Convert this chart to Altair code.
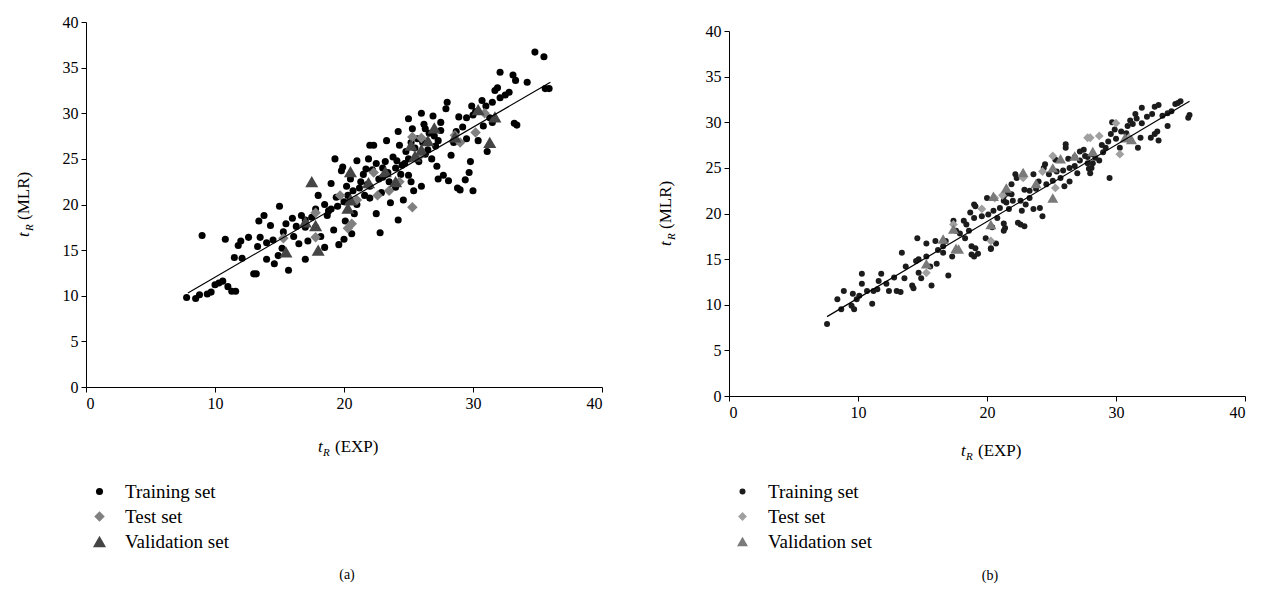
import altair as alt
import pandas as pd

SETS = ["Training set", "Test set", "Validation set"]

# ---------------- Panel (a) ----------------
a_train_x = [7.8, 8.5, 8.8, 9.0, 9.4, 9.7, 10.0, 10.3, 10.6, 10.8, 11.0, 11.3, 11.6, 11.5, 11.8, 12.0, 12.1, 12.6,
             13.0, 13.2, 13.4, 13.5, 13.3, 13.8, 14.0, 14.3, 14.5, 14.6, 14.9, 15.0, 15.3, 15.5, 15.7, 16.1, 16.3,
             16.5, 16.7, 17.0, 17.0, 17.2, 17.5, 17.8, 18.0, 18.2, 18.5, 18.7, 18.8, 19.0, 19.2, 19.3, 19.4, 19.6,
             19.8, 19.9, 20.0, 20.1, 20.3, 20.5, 20.5, 20.6, 20.8, 21.0, 21.0, 21.3, 21.5, 21.6, 21.8, 21.9, 22.0,
             22.2, 22.3, 22.5, 22.8, 22.5, 22.9, 23.0, 23.2, 23.3, 23.5, 23.6, 23.8, 24.0, 24.0, 24.2, 24.3, 24.5,
             24.6, 24.8, 25.0, 25.0, 25.2, 25.3, 25.4, 25.5, 25.8, 25.9, 26.0, 26.2, 26.3, 26.5, 26.8, 27.0, 27.2,
             27.3, 27.5, 27.7, 27.9, 28.0, 28.1, 28.3, 28.5, 28.8, 29.0, 29.2, 29.5, 29.7, 29.4, 29.8, 30.0, 30.0,
             30.2, 30.4, 30.7, 31.0, 31.1, 31.3, 31.5, 31.5, 31.7, 32.1, 32.5, 32.8, 31.9, 32.1, 33.1, 33.3, 34.2,
             33.4, 33.2, 34.8, 35.5, 35.6, 35.9,
             19.0, 19.5, 20.0, 20.7, 21.2, 22.0, 22.7, 23.4, 24.1, 24.7, 25.2, 25.7, 26.1, 26.6, 27.1, 23.0, 24.4,
             21.7, 20.2, 18.5, 17.8, 17.0, 16.0, 15.2, 14.0, 29.5, 30.8, 28.7, 27.5, 26.9, 26.0, 24.2, 25.0, 22.0,
             28.9, 29.9, 27.3, 26.3, 25.6]
a_train_y = [9.8, 9.7, 10.1, 16.6, 10.2, 10.4, 11.2, 11.4, 11.6, 16.2, 11.0, 10.5, 10.5, 14.2, 15.5, 16.0, 14.1, 16.4,
             12.4, 12.4, 18.2, 16.4, 15.4, 18.8, 15.8, 17.7, 16.1, 13.5, 14.4, 19.8, 17.0, 17.9, 12.8, 16.5, 17.6,
             15.7, 18.8, 14.0, 18.3, 16.0, 18.6, 17.5, 21.0, 16.5, 15.3, 18.8, 19.3, 22.3, 17.2, 25.0, 20.8, 15.6,
             23.7, 24.1, 16.2, 18.2, 21.0, 20.5, 22.8, 16.8, 19.0, 24.8, 20.0, 22.5, 23.3, 21.0, 22.2, 25.0, 20.7,
             23.8, 26.5, 24.5, 16.9, 19.0, 21.3, 23.0, 24.7, 27.0, 22.5, 20.2, 25.2, 24.0, 21.9, 18.3, 26.5, 24.3,
             20.5, 25.8, 23.2, 25.0, 22.5, 28.3, 21.5, 26.2, 24.7, 25.5, 22.0, 28.8, 25.5, 26.0, 25.0, 27.5, 24.2,
             22.8, 28.1, 23.2, 30.5, 31.2, 22.6, 25.4, 26.8, 21.8, 21.6, 28.5, 29.5, 23.5, 22.7, 24.7, 29.8, 21.5,
             30.2, 27.0, 31.4, 30.8, 25.8, 29.5, 29.0, 31.2, 32.5, 31.7, 32.0, 32.3, 32.8, 34.5, 34.2, 33.6, 33.4,
             28.7, 28.9, 36.7, 36.2, 32.7, 32.7,
             19.5, 19.8, 20.3, 21.5, 21.8, 22.0, 22.8, 23.5, 24.8, 24.5, 26.8, 27.2, 26.8, 27.8, 26.4, 24.0, 23.3,
             23.9, 22.0, 20.0, 19.5, 17.5, 18.5, 15.2, 14.0, 27.2, 28.6, 28.0, 29.0, 29.7, 30.0, 28.0, 29.4, 26.5,
             29.6, 30.8, 27.0, 28.3, 25.0]
a_test_x = [15.3, 17.8, 17.8, 19.7, 20.3, 20.6, 21.0, 22.6, 22.3, 23.5, 24.3, 25.3, 25.3, 26.0, 26.0, 28.6, 29.0,
            30.2, 30.9]
a_test_y = [16.3, 19.1, 16.4, 21.0, 17.4, 17.9, 20.5, 21.0, 23.5, 21.5, 22.5, 19.7, 27.4, 27.3, 25.5, 27.6, 26.8,
            27.9, 30.0]
a_val_x = [15.5, 17.0, 17.5, 17.8, 18.0, 20.3, 20.5, 21.9, 23.2, 24.0, 25.2, 26.0, 25.5, 26.5, 27.0, 28.6, 30.4,
           31.3, 31.7, 20.5]
a_val_y = [14.8, 18.1, 22.5, 17.7, 15.0, 19.6, 23.6, 22.4, 23.6, 22.5, 26.5, 26.0, 25.3, 27.0, 28.4, 27.4, 30.4,
           26.8, 29.6, 20.5]
a_fit_x = [7.9, 36.0]
a_fit_y = [10.3, 33.4]

# ---------------- Panel (b) ----------------
b_train_x = [7.6, 8.7, 8.4, 8.9, 9.6, 9.5, 9.7, 9.9, 10.1, 10.3, 10.3, 10.7, 11.1, 11.2, 11.5, 11.6, 11.8, 12.4, 13.0,
             13.3, 13.4, 13.6, 13.7, 14.2, 14.3, 14.5, 14.6, 14.7, 14.9, 15.3, 15.3, 14.7, 15.7, 16.0, 16.1, 16.6,
             16.6, 17.0, 17.3, 17.6, 17.4, 18.2, 18.6, 18.3, 18.8, 19.0, 19.3, 20.3, 20.7, 21.4, 21.3, 22.6, 22.9,
             22.7, 23.0, 23.6, 24.1, 24.3, 23.3, 23.8, 24.6, 25.1, 25.7, 26.0, 26.4, 25.9, 26.4, 26.8, 27.0, 27.2,
             27.6, 27.8, 28.2, 28.0, 28.7, 28.2, 20.0, 20.5, 21.5, 22.0, 21.0, 19.0, 18.7, 19.0, 18.4, 26.1, 26.1,
             24.5, 24.4, 22.2, 21.9, 21.6, 21.3,
             32.0, 33.0, 33.3, 34.6, 34.8, 35.7, 35.6, 31.6, 31.5, 32.8, 31.3, 32.0, 33.2, 33.0, 34.0, 32.7, 33.3,
             31.9, 31.7, 29.6, 29.4, 29.2, 29.0, 28.4, 27.8, 27.2, 29.5, 28.1, 27.9, 30.3, 30.8, 29.9, 30.4, 28.9,
             19.1, 18.8, 19.9, 20.3, 21.3, 22.4, 22.3, 21.9, 22.6, 21.3, 19.1, 19.6, 20.1, 20.8, 21.7, 23.3, 24.0,
             24.8, 25.4, 25.3, 26.8, 23.6, 22.9, 20.4, 17.9, 16.8, 16.2, 15.6, 12.8, 12.2, 26.3, 27.5, 30.0, 30.9,
             31.1, 32.4, 33.6, 34.3, 35.0, 34.0, 29.7]
b_train_y = [7.9, 9.5, 10.6, 11.5, 11.2, 9.9, 9.5, 10.6, 11.0, 12.3, 13.4, 11.5, 10.1, 11.5, 11.7, 12.6, 13.4, 11.5,
             11.5, 11.4, 15.7, 12.9, 14.2, 12.1, 11.8, 14.8, 17.3, 15.0, 12.9, 16.7, 15.3, 13.5, 12.1, 17.0, 14.5,
             15.7, 16.4, 13.2, 15.3, 18.1, 19.2, 19.2, 18.1, 17.3, 16.4, 15.3, 15.6, 16.1, 16.7, 18.4, 18.9, 18.8,
             18.6, 20.3, 21.0, 20.5, 20.6, 19.7, 21.7, 22.7, 23.2, 23.6, 23.9, 23.0, 23.5, 24.7, 25.0, 25.2, 24.4,
             25.8, 26.3, 25.5, 25.5, 24.4, 25.8, 26.5, 21.7, 20.3, 21.2, 21.4, 20.6, 21.0, 20.1, 19.5, 18.8, 27.6,
             27.2, 25.4, 25.0, 24.3, 23.2, 22.2, 21.9,
             31.6, 31.7, 31.9, 32.0, 32.1, 30.8, 30.5, 30.4, 30.9, 30.9, 29.8, 29.9, 29.0, 28.7, 29.6, 28.3, 28.0,
             28.3, 27.2, 28.7, 27.9, 27.2, 26.7, 26.1, 26.2, 26.8, 23.9, 25.0, 24.9, 27.2, 28.8, 29.2, 29.0, 27.5,
             16.2, 15.5, 17.3, 16.2, 18.1, 19.0, 23.9, 22.1, 21.4, 21.4, 20.8, 19.7, 19.9, 19.5, 20.5, 22.5, 23.5,
             24.3, 24.6, 25.9, 26.2, 24.3, 22.6, 18.5, 17.8, 17.0, 16.0, 14.2, 13.0, 12.3, 26.0, 27.0, 28.2, 29.6,
             30.2, 30.6, 30.7, 31.2, 32.3, 31.0, 30.0]
b_test_x = [15.3, 17.4, 20.3, 19.6, 20.6, 22.8, 25.1, 25.3, 28.0, 28.7, 30.0, 30.3, 31.0, 27.8, 24.3, 21.2]
b_test_y = [13.5, 18.8, 17.0, 20.5, 21.7, 23.9, 26.3, 22.8, 28.3, 28.5, 29.9, 26.5, 28.3, 28.3, 24.6, 22.0]
b_val_x = [15.3, 16.6, 17.4, 17.6, 17.8, 20.3, 20.5, 21.5, 23.8, 25.1, 25.7, 26.8, 25.1, 28.2, 30.7, 31.2, 22.8]
b_val_y = [14.5, 17.2, 18.3, 16.2, 16.1, 18.8, 21.9, 22.8, 23.3, 25.0, 26.0, 26.3, 21.7, 26.8, 28.3, 28.1, 24.5]
b_fit_x = [7.6, 35.7]
b_fit_y = [8.7, 32.3]

FONT = "Liberation Serif"
W, H = 516, 365
IND = dict(color="independent", shape="independent", size="independent")


def txt(text, x, y, size=17, style="normal", angle=0, align="left", baseline="alphabetic"):
    return alt.Chart(pd.DataFrame({"t": [text]})).mark_text(
        font=FONT, fontSize=size, fontStyle=style, angle=angle, align=align,
        baseline=baseline, color="black"
    ).encode(text="t:N", x=alt.value(x), y=alt.value(y))


def panel(tx, ty, sx, sy, vx, vy, fx, fy, colors, sizes, legend_y, xt_base, yt_base, tag, tag_y):
    df = pd.DataFrame({
        "x": tx + sx + vx,
        "y": ty + sy + vy,
        "set": [SETS[0]] * len(tx) + [SETS[1]] * len(sx) + [SETS[2]] * len(vx),
    })
    fit = pd.DataFrame({"x": fx, "y": fy})
    xs = alt.Scale(domain=[0, 40], nice=False)
    ys = alt.Scale(domain=[0, 40], nice=False)
    leg = alt.Legend(title=None, orient="none", legendX=4, legendY=legend_y, direction="vertical",
                     labelFont=FONT, labelFontSize=19, labelColor="black", labelOffset=16,
                     rowPadding=5, symbolStrokeWidth=0)
    pts = alt.Chart(df).mark_point(filled=True, opacity=1, strokeWidth=0).encode(
        x=alt.X("x:Q", scale=xs, axis=alt.Axis(values=[0, 10, 20, 30, 40], title=None)),
        y=alt.Y("y:Q", scale=ys, axis=alt.Axis(values=[0, 5, 10, 15, 20, 25, 30, 35, 40], title=None,
                                               minExtent=40, maxExtent=40)),
        shape=alt.Shape("set:N", scale=alt.Scale(domain=SETS, range=["circle", "diamond", "triangle-up"]), legend=leg),
        color=alt.Color("set:N", scale=alt.Scale(domain=SETS, range=colors), legend=leg),
        size=alt.Size("set:N", scale=alt.Scale(domain=SETS, range=sizes), legend=leg),
    )
    line = alt.Chart(fit).mark_line(color="black", strokeWidth=1.2).encode(
        x=alt.X("x:Q", scale=xs), y=alt.Y("y:Q", scale=ys))
    texts = [
        txt("t", 232, xt_base, 17, "italic"),
        txt("R", 237, xt_base + 4, 11, "italic"),
        txt("(EXP)", 249, xt_base, 17),
        txt("t", yt_base, 215, 17, "italic", angle=270),
        txt("R", yt_base + 4, 209, 11, "italic", angle=270),
        txt("(MLR)", yt_base, 198, 17, angle=270),
        txt(tag, 261, tag_y, 14, align="center", baseline="middle"),
    ]
    return alt.layer(pts, line, *texts).properties(width=W, height=H)


pa = panel(a_train_x, a_train_y, a_test_x, a_test_y, a_val_x, a_val_y, a_fit_x, a_fit_y,
           ["#000000", "#808080", "#454545"], [50, 170, 180], 460, 430, -57, "(a)", 553)
pb = panel(b_train_x, b_train_y, b_test_x, b_test_y, b_val_x, b_val_y, b_fit_x, b_fit_y,
           ["#1c1c1c", "#a0a0a0", "#7a7a7a"], [36, 120, 140], 451, 425, -58, "(b)", 545)

spacer = alt.Chart(pd.DataFrame({"v": [0]})).mark_point(opacity=0, size=0).encode(
    x=alt.value(0), y=alt.value(0)).properties(width=10, height=1)
right = alt.vconcat(spacer, pb, spacing=0).resolve_scale(**IND).resolve_legend(**IND)

chart = alt.hconcat(pa, right, spacing=54).resolve_scale(**IND).resolve_legend(**IND).properties(
    padding={"left": 7, "top": 6, "right": 0, "bottom": 0}
).configure_axis(
    labelFont=FONT, labelFontSize=16, labelColor="black", domainColor="black", tickColor="black",
    tickSize=5, grid=False, labelPadding=3, domainWidth=1, tickWidth=1
).configure_view(stroke=None)

chart.save("out.html", embed_options={"renderer": "svg", "actions": False})
